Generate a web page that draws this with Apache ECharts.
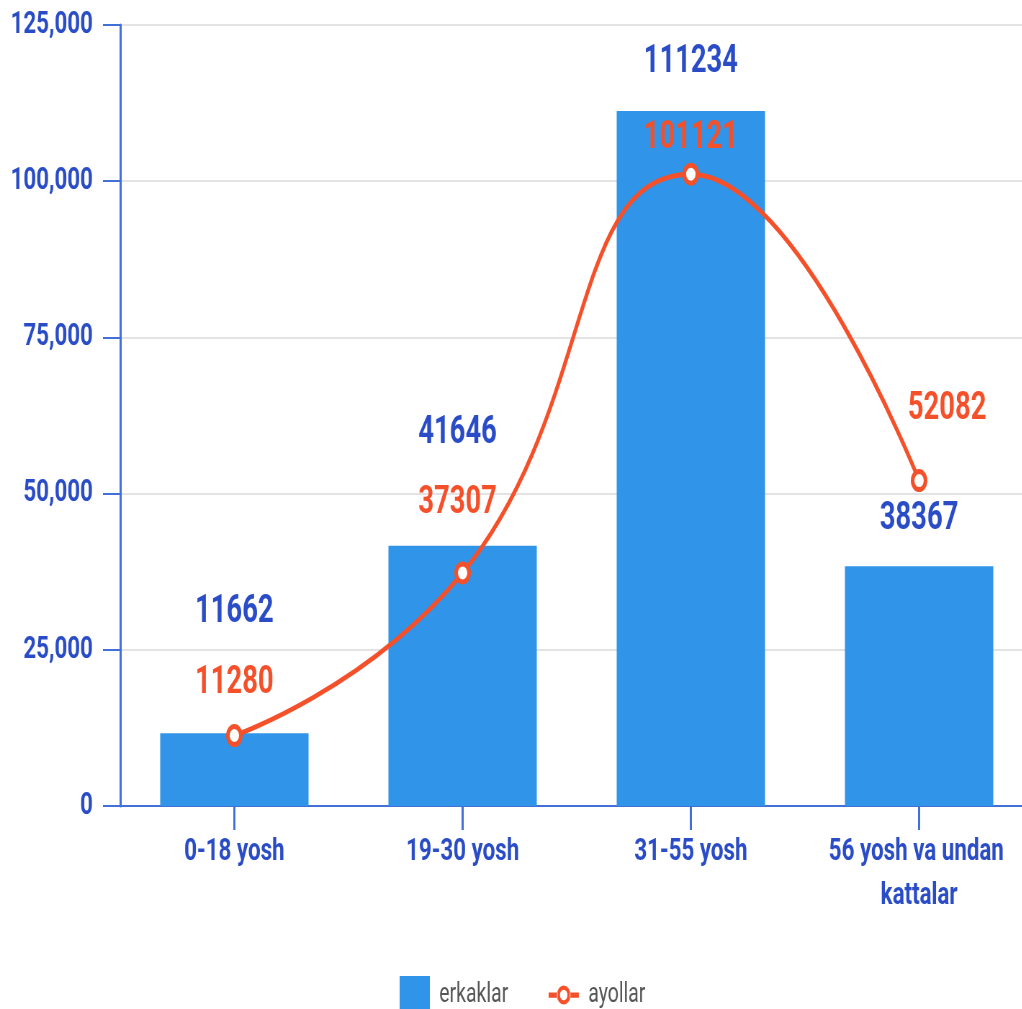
<!DOCTYPE html>
<html>
<head>
<meta charset="utf-8">
<script src="https://cdn.jsdelivr.net/npm/echarts@6/dist/echarts.min.js"></script>
<style>
html,body{margin:0;padding:0;overflow:hidden;background:#fff;width:1022px;height:1009px;}
#chart{width:1440px;height:1009px;transform:scaleX(0.72);transform-origin:0 0;}
</style>
</head>
<body>
<div id="chart"></div>
<script>
const categories = ['0-18 yosh', '19-30 yosh', '31-55 yosh', '56 yosh va undan kattalar'];
const erkaklar = [11662, 41646, 111234, 38367];
const ayollar = [11280, 37307, 101121, 52082];
const yTicks = { min: 0, max: 125000, interval: 25000 };

// label placement tweaks (pixels) to mirror the reference
const barLabelOffsets = [[0, -97], [-7, -88], [0, -25], [0, -23]];
const lineLabelOffsets = [[0, -17], [-7, -34], [0, 0], [39, -36]];

const blueText = '#2a4cc6';
const redColor = '#f4502a';
const barColor = '#3094e9';
const axisBlue = '#4270d6';

// legend icon for the line series: a short line with a ring in the middle
const lineIcon = 'path://M0 6.5H12V11.5H0Z M28 6.5H40V11.5H28Z ' +
  'M29 9A9 9 0 1 0 11 9A9 9 0 1 0 29 9Z M25 9A5 5 0 1 1 15 9A5 5 0 1 1 25 9Z';

const chart = echarts.init(document.getElementById('chart'));
chart.setOption({
  animation: false,
  textStyle: { fontFamily: 'Roboto' },
  grid: { left: 167, top: 25, width: 1268, height: 781, containLabel: false },
  legend: {
    left: 550, top: 971,
    itemWidth: 42, itemHeight: 38, itemGap: 56,
    textStyle: { fontSize: 27, color: '#555', fontFamily: 'Roboto', padding: [10, 0, 0, 8] },
    data: [
      { name: 'erkaklar', icon: 'rect' },
      { name: 'ayollar', icon: lineIcon, itemStyle: { color: redColor, borderWidth: 0 } }
    ]
  },
  xAxis: {
    type: 'category',
    data: categories,
    axisLine: { lineStyle: { color: axisBlue, width: 2 } },
    axisTick: { show: true, length: 24, alignWithLabel: true, lineStyle: { color: axisBlue, width: 3 } },
    axisLabel: {
      color: blueText, fontSize: 31, fontWeight: 'bold', margin: 24,
      width: 290, overflow: 'break', lineHeight: 44, interval: 0
    }
  },
  yAxis: {
    type: 'value',
    min: yTicks.min, max: yTicks.max, interval: yTicks.interval,
    axisLine: { show: true, lineStyle: { color: axisBlue, width: 3 } },
    axisTick: { show: true, length: 24, lineStyle: { color: axisBlue, width: 2 } },
    splitLine: { lineStyle: { color: '#e3e3e3', width: 2 } },
    axisLabel: {
      color: blueText, fontSize: 31, fontWeight: 'bold', margin: 38,
      formatter: v => v.toLocaleString('en-US')
    }
  },
  series: [
    {
      name: 'erkaklar',
      type: 'bar',
      barWidth: '65%',
      itemStyle: { color: barColor },
      data: erkaklar.map((v, i) => ({ value: v, label: { offset: barLabelOffsets[i] } })),
      label: { show: true, position: 'top', color: blueText, fontSize: 38, fontWeight: 'bold' },
      z: 2
    },
    {
      name: 'ayollar',
      type: 'line',
      smooth: true,
      symbol: 'circle',
      symbolSize: 18,
      lineStyle: { color: redColor, width: 5 },
      itemStyle: { color: '#fff', borderColor: redColor, borderWidth: 5 },
      data: ayollar.map((v, i) => ({ value: v, label: { offset: lineLabelOffsets[i] } })),
      label: { show: true, position: 'top', color: redColor, fontSize: 38, fontWeight: 'bold' },
      z: 3
    }
  ]
});
</script>
</body>
</html>
